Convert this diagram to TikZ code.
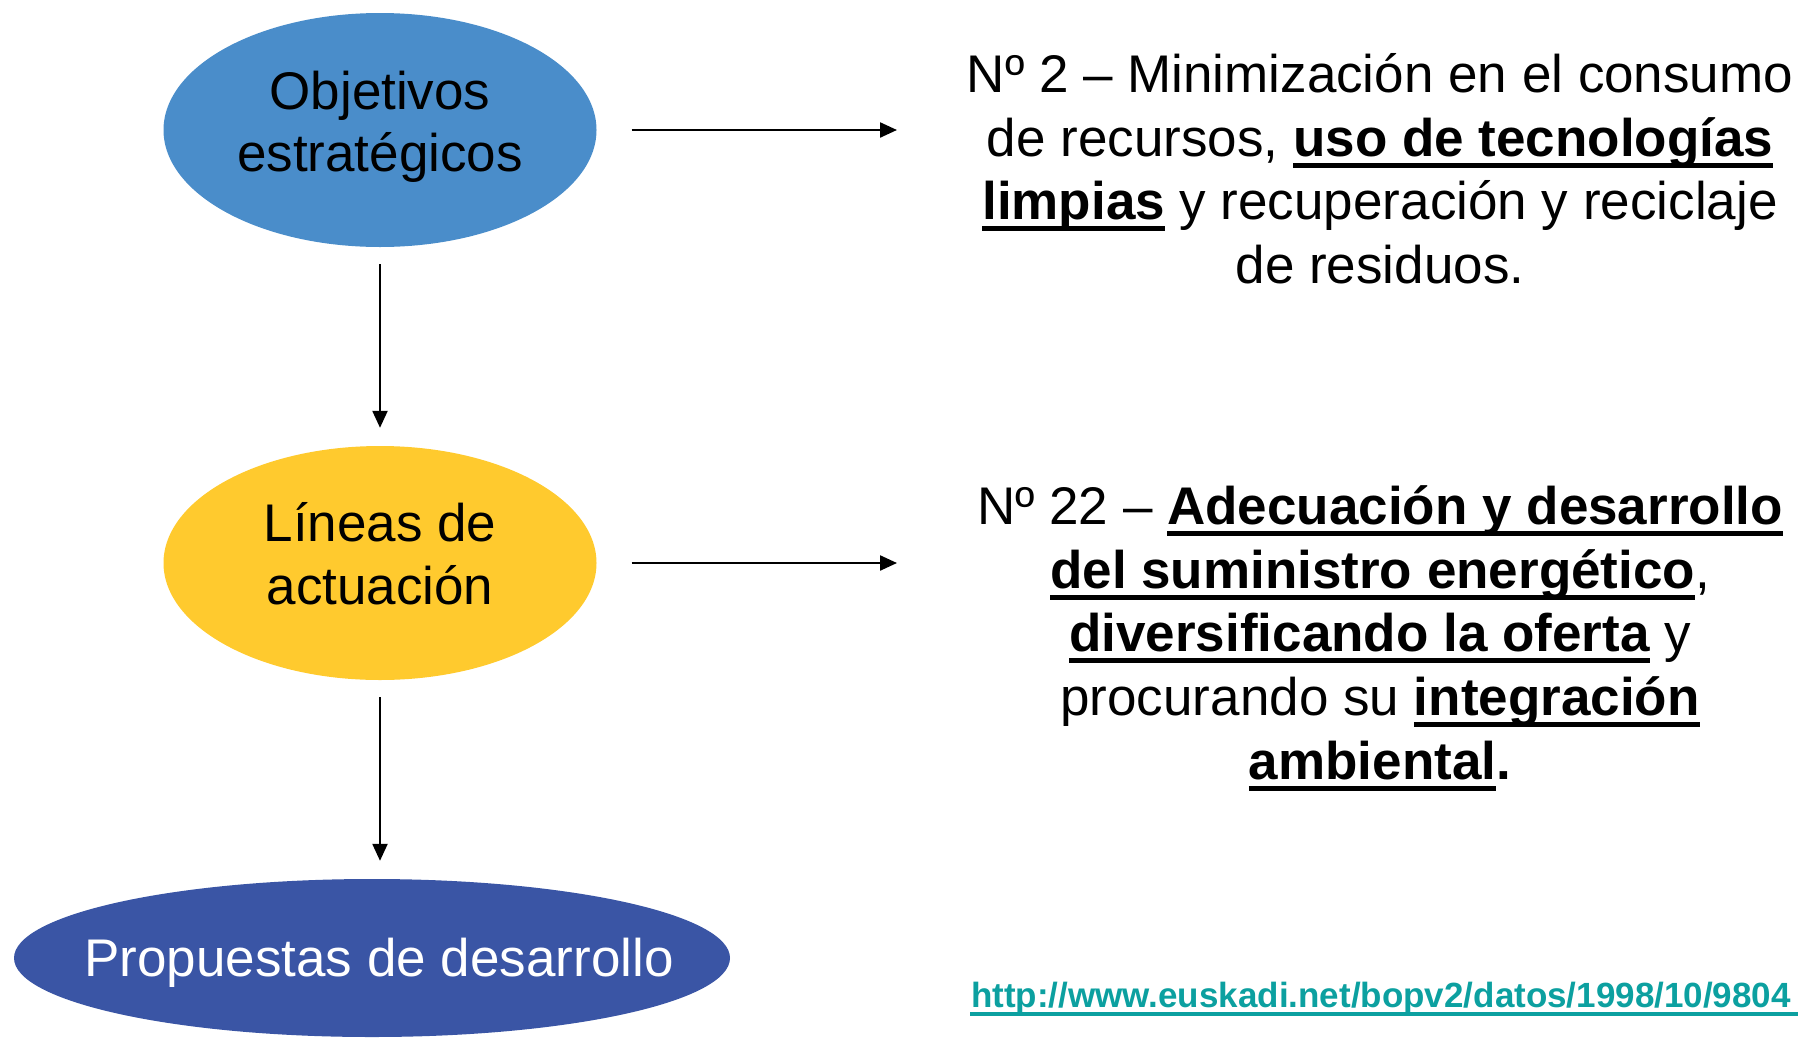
\documentclass[tikz,border=0pt]{standalone}
\usepackage{fontspec}
\setmainfont{Liberation Sans}
\usetikzlibrary{shapes.geometric,arrows.meta}
\definecolor{cobj}{HTML}{4A8DCA}
\definecolor{clin}{HTML}{FFCA2E}
\definecolor{cprop}{HTML}{3A55A5}
\definecolor{curl}{HTML}{0CA0A0}
\newcommand\ulx[1]{\setbox0=\hbox{\bfseries #1}\rlap{\rule[-11.5pt]{\wd0}{5pt}}\box0\relax}
\tikzset{
  x=1pt, y=-1pt,
  blob/.style={ellipse, inner sep=0pt, draw=none},
  big/.style={font=\fontsize{53}{63.6}\selectfont, inner sep=0pt, anchor=base},
  arr/.style={-{Triangle[length=17pt,width=15pt]}, line width=2.3pt, black},
}
\begin{document}
\begin{tikzpicture}
\useasboundingbox (0,0) rectangle (1798,1039);
% ellipses
\node[blob, fill=cobj, minimum width=433pt, minimum height=234pt] (e1) at (380,130) {};
\node[blob, fill=clin, minimum width=433pt, minimum height=234pt] (e2) at (380,563) {};
\node[blob, fill=cprop, minimum width=716pt, minimum height=158pt] (e3) at (372,958) {};
% ellipse texts
\node[big] (e1a) at (380,109) {Objetivos};
\node[big] (e1b) at (380,171) {estratégicos};
\node[big] (e2a) at (380,541) {Líneas de};
\node[big] (e2b) at (380,604) {actuación};
\node[big, text=white] (e3a) at (379,976) {Propuestas de desarrollo};
% right text block 1
\node[big] (t1a) at (1380,92) {Nº 2 – Minimización en el consumo};
\node[big] (t1b) at (1380,156) {de recursos, \ulx{uso de tecnologías}};
\node[big] (t1c) at (1380,219) {\ulx{limpias} y recuperación y reciclaje};
\node[big] (t1d) at (1380,283) {de residuos.};
% right text block 2
\node[big] (t2a) at (1380,524) {Nº 22 – \ulx{Adecuación y desarrollo}};
\node[big] (t2b) at (1380,588) {\ulx{del suministro energético},};
\node[big] (t2c) at (1380,651) {\ulx{diversificando la oferta} y};
\node[big] (t2d) at (1380,715) {procurando su \ulx{integración}};
\node[big] (t2e) at (1380,779) {\ulx{ambiental}\textbf{.}};
% url
\node[inner sep=0pt, anchor=base west, text=curl, font=\fontsize{35}{42}\selectfont\bfseries] (url) at (971,1007) {http://www.euskadi.net/bopv2/datos/1998/10/9804};
\fill[curl] (url.base west) ++(-1,5) rectangle ++(840,3.5);
% connectors
\coordinate (h1) at (897,130);
\coordinate (h2) at (897,563);
\draw[arr, shorten <=35pt] (e1.east) -- (h1);
\draw[arr, shorten <=35pt] (e2.east) -- (h2);
\draw[arr, shorten <=17pt, shorten >=18pt] (e1.south) -- (e2.north);
\draw[arr, shorten <=17pt, shorten >=18pt] (e2.south) -- (e2.south |- e3.north);
\end{tikzpicture}
\end{document}
